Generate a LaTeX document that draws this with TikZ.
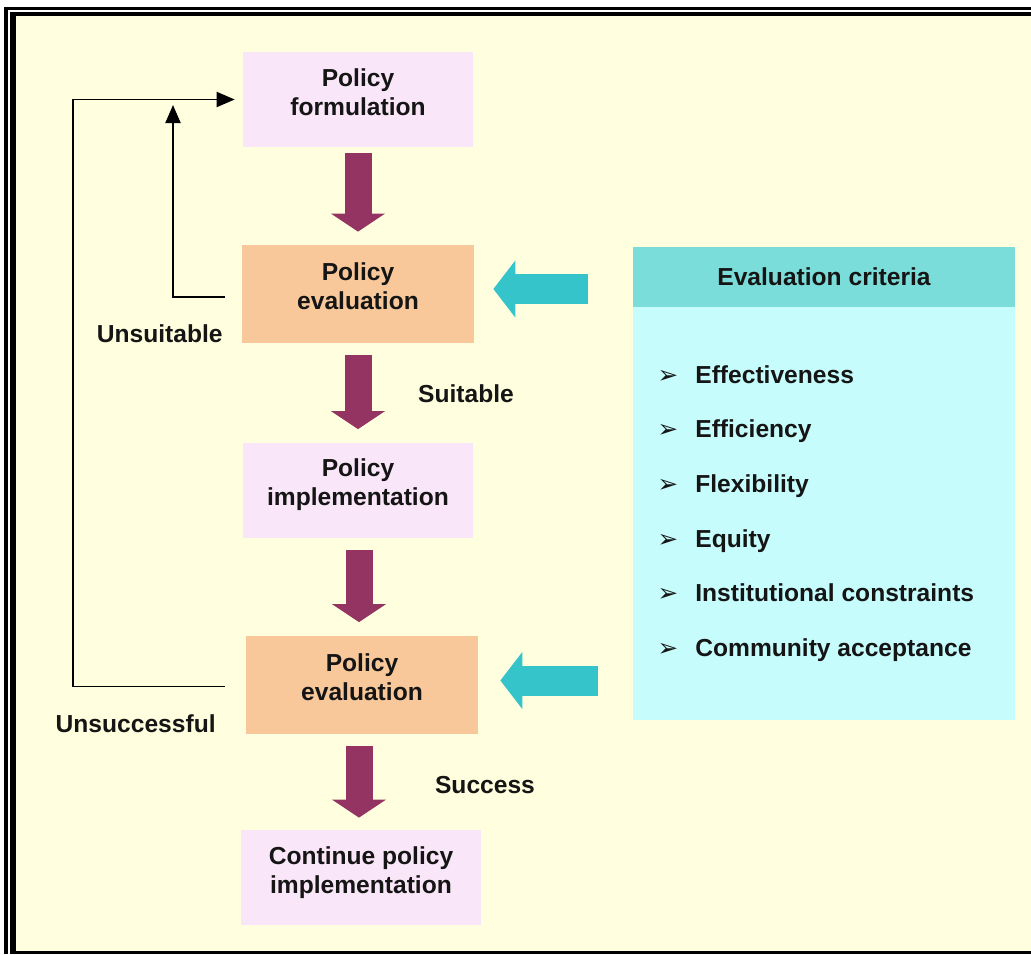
\documentclass[tikz,border=0pt]{standalone}
\usepackage{fontspec}
\setmainfont{Liberation Sans}
\newfontfamily\simboli{DejaVu Sans}
\usetikzlibrary{arrows.meta,calc}
\definecolor{crema}{HTML}{FFFFDF}
\definecolor{rosa}{HTML}{F9E6F8}
\definecolor{arancio}{HTML}{F8C89A}
\definecolor{bordeaux}{HTML}{943462}
\definecolor{turchese}{HTML}{35C4C9}
\definecolor{testata}{HTML}{7BDDD9}
\definecolor{celeste}{HTML}{C6FCFC}
\definecolor{inchiostro}{HTML}{151515}
\begin{document}
\begin{tikzpicture}[x=0.02cm,y=-0.02cm,
		blocco/.style={minimum width=4.6cm, minimum height=1.9cm, inner sep=0pt, align=center,
			text=inchiostro, font=\fontsize{14}{16.5}\selectfont\bfseries,
			execute at end node={\rule[-8.5pt]{0pt}{0pt}}},
		formul/.style={blocco, fill=rosa},
		valut/.style={blocco, fill=arancio, minimum width=4.64cm, minimum height=1.96cm},
		etich/.style={text=inchiostro, font=\fontsize{14}{16.5}\selectfont\bfseries, inner sep=0pt},
		voce/.style={etich, anchor=base west},
		freccia/.style={bordeaux, line width=0.54cm, -{Triangle[width=1.06cm,length=0.36cm]}},
		criterio/.style={turchese, line width=0.6cm, -{Triangle[width=1.12cm,length=0.44cm]}},
		ritorno/.style={black, line width=1.1pt, -{Triangle[width=0.3cm,length=0.36cm]}},
		]
	% ── Parametri ──
	\def\gapA{12}\def\gapB{13}          % distacco delle frecce dai blocchi
	\def\passo{54.7}                    % interlinea dei criteri
	\useasboundingbox (0,0) rectangle (1031,954);
	% ── Cornice ──
	\fill[white] (0,0) rectangle (1031,954);
	\fill[black] (4,7) rectangle (1031,954);
	\fill[white] (8,9.5) rectangle (1031,954);
	\fill[black] (10,11.5) rectangle (1031,954);
	\fill[crema] (16,16) rectangle (1031,951);

	% ===================== colonna dei blocchi =====================
	\node[formul] (form) at (358,99.5) {Policy\\formulation};
	\node[valut] (ev1) at (358,294) {Policy\\evaluation};
	\node[formul] (impl) at (358,490) {Policy\\implementation};
	\node[valut] (ev2) at (362,684.5) {Policy\\evaluation};
	\node[formul, minimum width=4.8cm] (cont) at (361,877.5) {Continue policy\\implementation};

	\draw[freccia] ($(form.south)+(0,6)$) -- ($(ev1.north)+(0,-\gapB)$);
	\draw[freccia] ($(ev1.south)+(0,\gapA)$) -- ($(impl.north)+(0,-\gapB)$);
	\draw[freccia] ($(impl.south)+(1,\gapA)$) -- ($(impl.south |- ev2.north)+(1,-\gapB)$);
	\draw[freccia] ($(ev2.south)+(-3,\gapA)$) -- ($(ev2.south |- cont.north)+(-3,-\gapA)$);

	\node[etich] (suitable) at ($(ev1.south)+(108,50)$) {Suitable};
	\node[etich] (unsuitable) at ($(ev1.south west)+(-82,-10)$) {Unsuitable};
	\node[etich] (success) at ($(ev2.south)+(123,51)$) {Success};
	\node[etich] (unsucc) at ($(ev2.south west)+(-110,-10)$) {Unsuccessful};

	% ── Ritorni ──
	\coordinate (ritA) at (173,105);
	\coordinate (ritB) at (73,99.5);
	\draw[ritorno] ($(ev1.west)+(-17,3)$) -| (ritA);
	\draw[ritorno] ($(ev2.west)+(-21,2)$) -| (ritB) -- ($(form.west)+(-8,0)$);

	% ===================== criteri di valutazione =====================
	\node[fill=celeste, minimum width=7.64cm, minimum height=8.26cm, inner sep=0pt] (critbody) at (824,513.5) {};
	\node[fill=testata, minimum width=7.64cm, minimum height=1.2cm, inner sep=0pt,
		text=inchiostro, font=\fontsize{14}{16.5}\selectfont\bfseries] (crithead) at (824,277) {Evaluation criteria};
	\foreach \nome [count=\i] in {Effectiveness,Efficiency,Flexibility,Equity,Institutional constraints,Community acceptance}{
		\node[voce] (item\i) at (695,{383+\passo*(\i-1)}) {\nome};
		\node[etich, anchor=base, font=\simboli\bfseries\fontsize{14}{16}\selectfont] (bul\i) at ($(item\i.base west)+(-27,0)$) {➢};
	}

	\draw[criterio] ($(crithead.west |- ev1.east)+(-45,-5)$) -- ($(ev1.east)+(19,-5)$);
	\draw[criterio] ($(critbody.west |- ev2.east)+(-35,-4)$) -- ($(ev2.east)+(22,-4)$);
\end{tikzpicture}
\end{document}
